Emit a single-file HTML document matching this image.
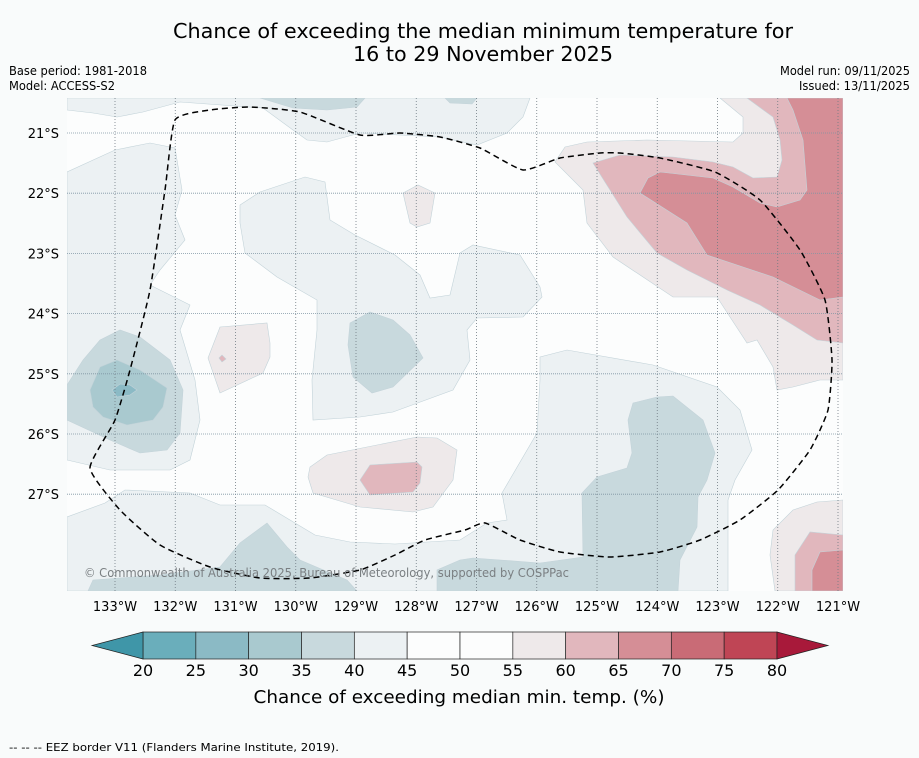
<!DOCTYPE html>
<html><head><meta charset="utf-8"><style>
html,body{margin:0;padding:0;background:#f9fbfb;}
svg{display:block;font-family:"DejaVu Sans","Liberation Sans",sans-serif;}
</style></head><body>
<svg id="fig" width="919" height="758" viewBox="0 0 919 758">
<rect width="919" height="758" fill="#f9fbfb"/>
<text x="483" y="38" text-anchor="middle" font-size="20" textLength="620" lengthAdjust="spacingAndGlyphs">Chance of exceeding the median minimum temperature for</text>
<text x="483" y="61" text-anchor="middle" font-size="20" textLength="260" lengthAdjust="spacingAndGlyphs">16 to 29 November 2025</text>
<text x="9" y="75" font-size="12" textLength="138" lengthAdjust="spacingAndGlyphs">Base period: 1981-2018</text>
<text x="9" y="90" font-size="12" textLength="106" lengthAdjust="spacingAndGlyphs">Model: ACCESS-S2</text>
<text x="910" y="75" font-size="12" text-anchor="end" textLength="130" lengthAdjust="spacingAndGlyphs">Model run: 09/11/2025</text>
<text x="910" y="90" font-size="12" text-anchor="end" textLength="111" lengthAdjust="spacingAndGlyphs">Issued: 13/11/2025</text>
<defs><clipPath id="mc"><rect x="67" y="98" width="776" height="493"/></clipPath></defs>
<g id="map" clip-path="url(#mc)">
<rect x="67" y="98" width="776" height="493" fill="#fcfdfd"/>
<g stroke="#c3d3d9" stroke-width="0.6">
<polygon fill="#ecf1f3" points="67,98 530,98 523,117 507,133 477,145 440,137 360,133 327,142 307,140 293,130 263,108 180,102 143,112 117,117 93,113 67,110"/>
<polygon fill="#c8d9dd" points="260,98 365,98 357,107 327,110 293,108"/>
<polygon fill="#c8d9dd" points="445,98 477,98 472,104 450,103"/>
<polygon fill="#ecf1f3" points="67,172 115,150 150,143 175,148 182,190 175,215 185,240 160,270 150,285 190,305 180,330 195,380 200,420 190,460 170,470 110,470 67,460"/>
<polygon fill="#ecf1f3" points="67,517 105,503 125,490 190,493 220,505 265,505 315,535 350,542 395,544 460,540 487,523 507,520 502,493 537,433 540,380 540,357 567,350 653,365 717,387 740,410 752,450 735,480 728,500 728,591 67,591"/>
<polygon fill="#ecf1f3" points="240,205 260,192 305,177 325,182 330,220 355,235 395,255 420,275 430,298 450,295 460,253 473,245 520,255 540,287 542,297 523,317 477,318 467,330 470,360 453,390 393,412 360,417 313,420 312,380 317,330 317,300 277,277 245,253 240,223"/>
<polygon fill="#c8d9dd" points="350,323 370,312 393,320 410,335 423,358 393,387 372,393 353,377 348,345"/>
<polygon fill="#c8d9dd" points="67,385 83,360 100,340 120,330 140,337 170,360 183,390 180,433 167,450 140,453 110,440 67,420"/>
<polygon fill="#a9c9cf" points="90,390 100,367 117,360 140,370 167,388 163,407 153,420 127,425 103,417 93,407"/>
<polygon fill="#8bbac5" points="112,390 120,384 130,385 137,390 130,395 117,397"/>
<polygon fill="#c8d9dd" points="88,591 93,580 160,575 220,567 240,543 267,523 287,547 300,560 347,580 357,591"/>
<polygon fill="#c8d9dd" points="437,591 437,570 460,560 473,558 540,563 583,557 582,493 597,477 627,468 632,453 628,420 633,403 657,397 673,396 703,420 715,453 707,480 698,497 697,527 680,560 678,591"/>
<polygon fill="#eee9ea" points="208,358 220,327 267,323 270,343 270,357 263,373 220,393"/>
<polygon fill="#e1b7bd" points="219,358 222,355 226,359 222,362"/>
<polygon fill="#eee9ea" points="403,193 418,185 435,193 430,223 417,227 410,223"/>
<polygon fill="#eee9ea" points="308,477 310,467 327,455 417,437 437,438 457,450 453,480 433,507 413,512 360,507 313,493"/>
<polygon fill="#e1b7bd" points="360,480 370,465 417,462 422,467 420,483 413,492 370,495"/>
<polygon fill="#eee9ea" points="720,98 843,98 843,380 820,380 793,387 777,390 773,367 757,340 747,343 730,317 717,297 673,297 613,257 587,223 583,190 555,162 565,147 587,142 647,140 733,142 743,133 743,117"/>
<polygon fill="#e1b7bd" points="747,98 843,98 843,343 817,340 793,325 760,305 727,290 687,270 657,253 627,217 610,190 593,163 620,155 673,157 713,162 733,167 753,178 777,177 782,160 780,140 773,117"/>
<polygon fill="#d58e96" points="787,98 843,98 843,297 820,300 773,277 707,255 687,223 640,193 648,178 660,172 713,178 733,187 760,203 777,207 800,200 807,190 803,140 793,110"/>
<polygon fill="#eee9ea" points="843,500 817,502 793,510 773,530 770,555 775,591 843,591"/>
<polygon fill="#e1b7bd" points="843,535 810,532 795,555 795,591 843,591"/>
<polygon fill="#d58e96" points="843,550 820,552 812,570 812,591 843,591"/>
</g>
<g id="grid"></g>
<path id="eez" fill="none" stroke="#000" stroke-width="1.5" stroke-dasharray="6,4"/>
<text x="84" y="577" font-size="12" fill="#7a7f82" textLength="485" lengthAdjust="spacingAndGlyphs">© Commonwealth of Australia 2025, Bureau of Meteorology, supported by COSPPac</text>
</g>
<g id="axes"></g>
<g id="cbar"></g>
<text x="459" y="703" text-anchor="middle" font-size="18" textLength="411" lengthAdjust="spacingAndGlyphs">Chance of exceeding median min. temp. (%)</text>
<text x="9" y="751" font-size="11" textLength="330" lengthAdjust="spacingAndGlyphs">-- -- -- EEZ border V11 (Flanders Marine Institute, 2019).</text>
</svg>
<script>
const lonTicks=[133,132,131,130,129,128,127,126,125,124,123,122,121];
const latTicks=[21,22,23,24,25,26,27];
const levels=[20,25,30,35,40,45,50,55,60,65,70,75,80];
const levelColors=["#6aaebb","#8bbac5","#a9c9cf","#c8d9dd","#ecf1f3","#fcfdfd","#fcfdfd","#eee9ea","#e1b7bd","#d58e96","#c96b76","#bf4555"];
const eezPts=[[90,468],[115,420],[130,370],[150,290],[165,190],[175,120],[210,110],[250,107],[300,112],[360,135],[400,133],[440,137],[480,148],[523,170],[560,158],[600,153],[620,153],[660,158],[715,172],[760,200],[800,250],[825,300],[832,360],[828,410],[810,450],[778,490],[740,520],[700,540],[660,552],[610,557],[560,552],[520,540],[485,523],[465,530],[425,540],[395,555],[360,570],[310,578],[260,578],[210,567],[160,545],[120,510]];
const NS="http://www.w3.org/2000/svg";
function xLon(w){return 115+(133-w)*60.25;}
function yLat(s){return 133+(s-21)*60.2;}
function xLev(v){return 143+(v-20)*(777-143)/60;}
function mk(t,a,p){const e=document.createElementNS(NS,t);for(const k in a)e.setAttribute(k,a[k]);p.appendChild(e);return e;}
(function(){const n=eezPts.length;let d='M'+eezPts[0].join(',');const k=12;
 for(let i=0;i<n;i++){const p0=eezPts[(i-1+n)%n],p1=eezPts[i],p2=eezPts[(i+1)%n],p3=eezPts[(i+2)%n];
  const c1=[p1[0]+(p2[0]-p0[0])/k,p1[1]+(p2[1]-p0[1])/k],c2=[p2[0]-(p3[0]-p1[0])/k,p2[1]-(p3[1]-p1[1])/k];
  d+=` C${c1[0].toFixed(1)},${c1[1].toFixed(1)} ${c2[0].toFixed(1)},${c2[1].toFixed(1)} ${p2[0]},${p2[1]}`;}
 document.getElementById('eez').setAttribute('d',d);})();
const grid=document.getElementById('grid'),axes=document.getElementById('axes'),cb=document.getElementById('cbar');
lonTicks.forEach(w=>{const x=xLon(w);
 const l=mk('line',{x1:x,x2:x,y1:98,y2:591,stroke:'#6f7a82','stroke-width':0.8,'stroke-dasharray':'1,2'},grid);
 
 
 const t=mk('text',{x:x,y:611,'text-anchor':'middle','font-size':13},axes);t.textContent=w+'°W';
 
 
});
latTicks.forEach(s=>{const y=yLat(s);
 const l=mk('line',{x1:67,x2:843,y1:y,y2:y,stroke:'#7f95a3','stroke-width':0.8,'stroke-dasharray':'1,1'},grid);
 
 
 const t=mk('text',{x:59,y:y+5,'text-anchor':'end','font-size':13},axes);t.textContent=s+'°S';
 
 
});
levelColors.forEach((c,i)=>{const x0=xLev(levels[i]),x1=xLev(levels[i+1]);
 const r=mk('rect',{x:x0,y:632,width:x1-x0,height:27,fill:c,stroke:'#222','stroke-width':0.7},cb);
 
 
});
const tl=mk('polygon',{points:`${xLev(levels[0])},632 92,645.5 ${xLev(levels[0])},659`,fill:'#3f96a8',stroke:'#222','stroke-width':0.7},cb);


const tr=mk('polygon',{points:`${xLev(levels[12])},632 828,645.5 ${xLev(levels[12])},659`,fill:'#a8193a',stroke:'#222','stroke-width':0.7},cb);


levels.forEach(v=>{const t=mk('text',{x:xLev(v),y:676,'text-anchor':'middle','font-size':16},cb);t.textContent=v;
 
 
});
</script>
</body></html>
